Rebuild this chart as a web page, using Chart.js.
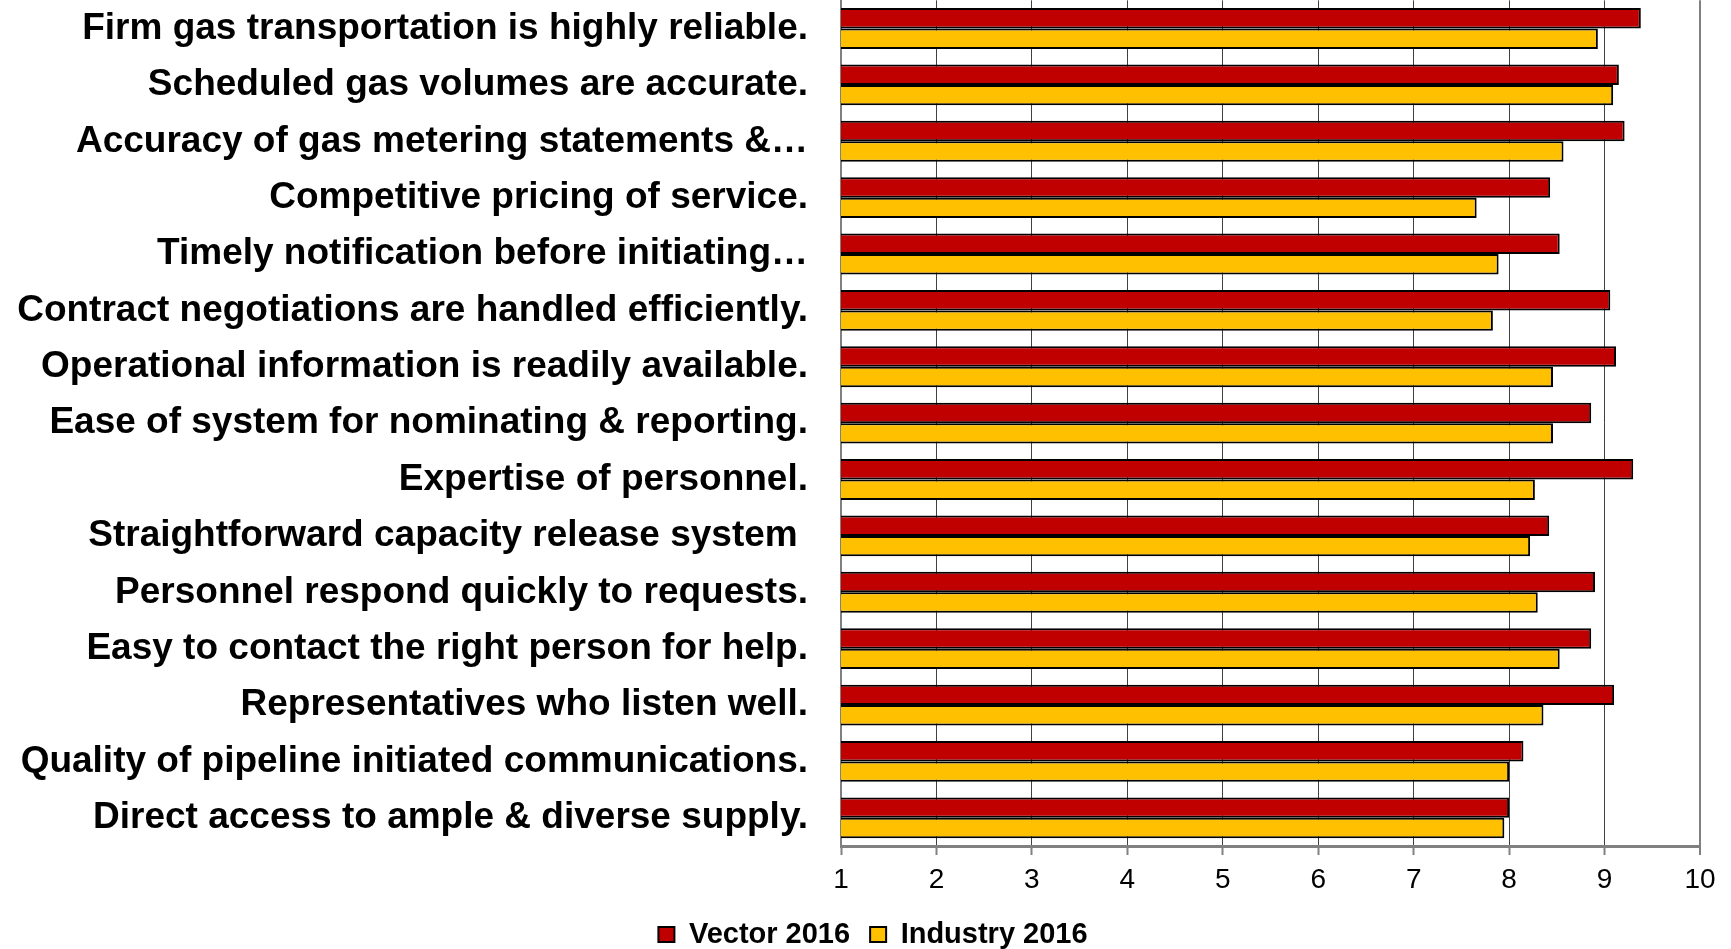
<!DOCTYPE html>
<html>
<head>
<meta charset="utf-8">
<script src="https://cdn.jsdelivr.net/npm/chart.js@4"></script>
<style>
  html, body { margin: 0; padding: 0; background: #fff; }
  #wrap { width: 1731px; height: 949px; position: relative; }
</style>
</head>
<body>
<div id="wrap"><canvas id="chart"></canvas></div>
<script>
// survey items, top to bottom
const questions = [
  'Firm gas transportation is highly reliable.',
  'Scheduled gas volumes are accurate.',
  'Accuracy of gas metering statements &\u2026',
  'Competitive pricing of service.',
  'Timely notification before initiating\u2026',
  'Contract negotiations are handled efficiently.',
  'Operational information is readily available.',
  'Ease of system for nominating & reporting.',
  'Expertise of personnel.',
  'Straightforward capacity release system ',
  'Personnel respond quickly to requests.',
  'Easy to contact the right person for help.',
  'Representatives who listen well.',
  'Quality of pipeline initiated communications.',
  'Direct access to ample & diverse supply.',
];

const vector2016 = [9.38, 9.15, 9.21, 8.43, 8.53, 9.06, 9.12, 8.86, 9.30, 8.42, 8.90, 8.86, 9.10, 8.15, 8.00];
const industry2016 = [8.93, 9.09, 8.57, 7.66, 7.89, 7.83, 8.46, 8.46, 8.27, 8.22, 8.30, 8.53, 8.36, 8.00, 7.95];

const scoreMin = 1;
const scoreMax = 10;

const FONT = "'Liberation Sans', Arial, sans-serif";
const AXIS_GREY = '#808080';

// legend sits a little right of the canvas centre in the original
const legendNudge = {
  id: 'legendNudge',
  afterLayout(chart) {
    if (!chart.legend) return;
    chart.legend.left += 19;
    chart.legend.right += 19;
  },
};

new Chart(document.getElementById('chart'), {
  type: 'bar',
  data: {
    labels: questions,
    datasets: [
      { label: 'Vector 2016', data: vector2016, backgroundColor: '#C00000', borderColor: '#000', borderWidth: 2, borderSkipped: false },
      { label: 'Industry 2016', data: industry2016, backgroundColor: '#FFC000', borderColor: '#000', borderWidth: 2, borderSkipped: false },
    ],
  },
  options: {
    indexAxis: 'y',
    responsive: true,
    maintainAspectRatio: false,
    animation: false,
    datasets: { bar: { categoryPercentage: 0.725, barPercentage: 1.0 } },
    layout: { padding: { top: -3, bottom: -10, left: 8, right: 31 } },
    plugins: {
      tooltip: { enabled: false },
      legend: {
        position: 'bottom',
        labels: {
          color: '#000',
          font: { family: FONT, size: 29, weight: 'bold' },
          boxWidth: 16,
          boxHeight: 15,
          padding: 20,
        },
      },
    },
    scales: {
      x: {
        type: 'linear',
        min: scoreMin,
        max: scoreMax,
        ticks: { stepSize: 1, color: '#000', font: { family: FONT, size: 28 }, padding: 8 },
        grid: {
          color: c => (c.tick && c.tick.value === scoreMax) ? AXIS_GREY : '#404040',
          lineWidth: c => (c.tick && c.tick.value === scoreMax) ? 2 : 1,
          tickColor: AXIS_GREY,
          tickWidth: 2,
          tickLength: 9,
        },
        border: { color: AXIS_GREY, width: 3 },
        afterFit: s => { s.height = 54; },
      },
      y: {
        // gap to the labels comes from an invisible tick mark so it adds no top padding
        ticks: { color: '#000', font: { family: FONT, size: 37, weight: 'bold', lineHeight: 0.02 }, padding: 0, autoSkip: false },
        grid: { display: true, drawOnChartArea: false, drawTicks: true, tickLength: 33, tickColor: 'rgba(0,0,0,0)' },
        border: { color: AXIS_GREY, width: 2 },
        afterFit: s => { s.width = 833; },
      },
    },
  },
  plugins: [legendNudge],
});
</script>
</body>
</html>
